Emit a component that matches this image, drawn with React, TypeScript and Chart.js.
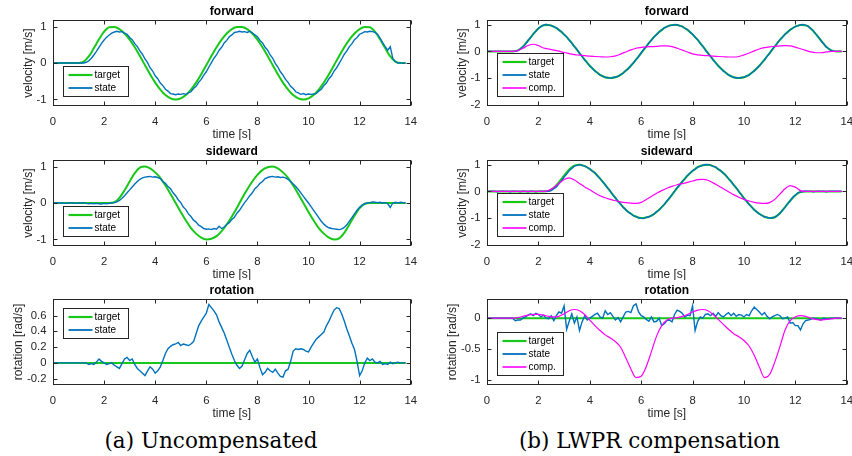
import React, { useEffect, useRef } from 'react';
import { Chart, registerables } from 'chart.js';

Chart.register(...registerables);

const FONT = '"Liberation Sans", Arial, sans-serif';
const AXIS = '#262626';
const GREEN = '#18c818';
const BLUE = '#0072bd';
const MAGENTA = '#ff00ff';
const TICK_LEN = 4;

// ---- axis ticks ----
const X_TICKS = [0, 2, 4, 6, 8, 10, 12, 14];
const Y_TICKS_VEL_A = [-1, 0, 1];
const Y_TICKS_VEL_B = [-2, -1, 0, 1];
const Y_TICKS_ROT_A = [-0.2, 0, 0.2, 0.4, 0.6];
const Y_TICKS_ROT_B = [-1, -0.5, 0];

// ---- sample spacing (s) ----
const DT_SMOOTH = 0.2;
const DT_STATE = 0.1;
const DT_ROT_TARGET = 0.6;

// ---- targets ----
const T_FWD = [0, 0, 0, 0, 0, 0, 0.04, 0.18, 0.41, 0.65, 0.86, 0.98,
  0.99, 0.93, 0.81, 0.64, 0.43, 0.19, -0.06, -0.31, -0.54, -0.73, -0.88, -0.97, -1.0, -0.97, -0.88, -0.73, -0.54, -0.31, -0.06, 0.19, 0.43, 0.64, 0.81, 0.93, 0.99,
  0.99, 0.93, 0.81, 0.64, 0.43, 0.19, -0.06, -0.31, -0.54, -0.73, -0.88, -0.97, -1.0, -0.97, -0.88, -0.73, -0.54, -0.31, -0.06, 0.19, 0.43, 0.64, 0.81, 0.93, 0.99,
  0.98, 0.86, 0.65, 0.41, 0.18, 0.04, 0, 0];

const T_SIDE = [0, 0, 0, 0, 0, 0, 0, 0, 0, 0, 0, 0,
  0.02, 0.14, 0.35, 0.59, 0.82, 0.97,
  1.0, 0.95, 0.84, 0.69, 0.48, 0.25, 0.0, -0.25, -0.48, -0.69, -0.84, -0.95, -1.0, -0.98, -0.91, -0.77, -0.59, -0.37, -0.13, 0.13, 0.37, 0.59, 0.77, 0.91, 0.98,
  1.0, 0.95, 0.84, 0.69, 0.48, 0.25, 0.0, -0.25, -0.48, -0.69, -0.84, -0.95, -1.0,
  -0.97, -0.82, -0.59, -0.35, -0.14, -0.02,
  0, 0, 0, 0, 0, 0, 0, 0];

const T_ROT = [0, 0, 0, 0, 0, 0, 0, 0, 0, 0, 0, 0, 0, 0, 0, 0, 0, 0, 0, 0, 0, 0, 0, 0];

// ---- (a) uncompensated states ----
const S_FWD_A = [0, 0, 0, 0, 0, 0, 0, 0, 0, 0, 0, 0, 0,
  0.02, 0.06, 0.13, 0.22, 0.32, 0.43, 0.54, 0.63, 0.71, 0.77, 0.82, 0.85,
  0.87, 0.85, 0.86, 0.82, 0.79, 0.70, 0.64, 0.53, 0.45, 0.33, 0.24, 0.11, 0.01, -0.13, -0.22, -0.35, -0.43, -0.55, -0.62, -0.72, -0.77, -0.84, -0.85, -0.87, -0.85, -0.86, -0.84, -0.86, -0.82, -0.79, -0.70, -0.64, -0.53, -0.45, -0.33, -0.24, -0.11, 0.01, 0.13, 0.22, 0.35, 0.43, 0.55, 0.62, 0.72, 0.77, 0.84, 0.85, 0.87, 0.85,
  0.86, 0.84, 0.87, 0.83, 0.77, 0.72, 0.62, 0.55, 0.43, 0.35, 0.22, 0.13, -0.01, -0.11, -0.24, -0.33, -0.45, -0.53, -0.64, -0.70, -0.79, -0.82, -0.86, -0.84, -0.87, -0.85, -0.86, -0.85, -0.84, -0.77, -0.72, -0.62, -0.55, -0.43, -0.35, -0.22, -0.13, -0.01, 0.11, 0.24, 0.33, 0.45, 0.53, 0.64, 0.70, 0.79, 0.82, 0.86, 0.85, 0.87,
  0.86, 0.84, 0.79, 0.68, 0.56, 0.45, 0.35, 0.45, 0.12, 0.04, 0.0, 0.01, -0.01, 0.0];

const S_SIDE_A = [0, 0, 0.01, 0, 0, -0.01, 0, 0.01, 0, -0.01, 0, 0, 0.01, -0.01, -0.02, -0.01, -0.02, -0.01, -0.02, -0.03, -0.01, -0.02, -0.01, 0.0,
  0.01, 0.03, 0.07, 0.13, 0.2, 0.28, 0.36, 0.44, 0.52, 0.59, 0.65, 0.69, 0.71, 0.72,
  0.73, 0.71, 0.72, 0.70, 0.67, 0.59, 0.54, 0.45, 0.39, 0.28, 0.2, 0.09, 0.01, -0.11, -0.18, -0.3, -0.37, -0.47, -0.52, -0.61, -0.65, -0.7, -0.72, -0.71, -0.73, -0.7, -0.72, -0.64, -0.7, -0.66, -0.59, -0.54, -0.45, -0.39, -0.28, -0.2, -0.09, 0.01, 0.1, 0.2, 0.28, 0.39, 0.45, 0.54, 0.59, 0.67, 0.7, 0.72, 0.73, 0.71,
  0.72, 0.7, 0.71, 0.69, 0.65, 0.59, 0.52, 0.45, 0.37, 0.28, 0.18, 0.09, 0.0,
  -0.1, -0.2, -0.3, -0.4, -0.5, -0.58, -0.64, -0.68, -0.7, -0.71, -0.72, -0.73, -0.71,
  -0.67, -0.6, -0.5, -0.4, -0.3, -0.2, -0.12, -0.06, -0.02, 0.0,
  0.01, 0.03, 0.02, 0.01, 0.02, 0.0, 0.01, -0.02, -0.12, 0.0, 0.02, 0.0, 0.02, 0.01, 0.0];

const S_ROT_A = [0, 0, 0, 0, 0, 0, 0, 0, 0, 0, 0, 0, 0,
  0.0, -0.02, -0.01, -0.02, 0.01, 0.05, 0.02, 0.0, -0.02, -0.01,
  0.0, -0.03, -0.05, -0.07, -0.01, 0.05, 0.07, 0.03, 0.05, -0.02,
  -0.07, -0.1, -0.13, -0.16, -0.1, -0.05, -0.08, -0.13, -0.1, -0.05,
  0.03, 0.12, 0.18, 0.21, 0.23, 0.24, 0.26, 0.22, 0.24, 0.23,
  0.22, 0.24, 0.27, 0.37, 0.47, 0.53, 0.58, 0.63, 0.74, 0.7,
  0.66, 0.61, 0.52, 0.45, 0.38, 0.29, 0.2, 0.11, 0.03, -0.03,
  -0.07, -0.04, 0.04, 0.12, 0.16, 0.08, 0.01, 0.05, -0.06, -0.15,
  -0.12, -0.07, -0.1, -0.12, -0.08, -0.13, -0.17, -0.18, -0.1, -0.08,
  0.02, 0.15, 0.18, 0.17, 0.18, 0.17, 0.15, 0.14, 0.2, 0.25,
  0.3, 0.33, 0.36, 0.39, 0.47, 0.53, 0.6, 0.67, 0.7, 0.69,
  0.62, 0.53, 0.43, 0.34, 0.25, 0.17, 0.02, -0.16, -0.1, 0.0,
  0.06, 0.03, 0.05, 0.01, 0.0, 0.02, -0.02, -0.01, -0.02, 0.01,
  -0.01, 0.0, 0.01, 0.0, 0.0, 0.0];

// ---- (b) LWPR compensation: states ----
const S_FWD_B = [0, 0, 0, 0, 0, 0, 0, 0, 0, 0, 0,
  0.0, 0.03, 0.09, 0.18, 0.28, 0.41, 0.52, 0.66, 0.76, 0.87, 0.93, 0.99,
  1.02, 0.98, 0.98, 0.92, 0.89, 0.80, 0.74, 0.63, 0.55, 0.42, 0.32, 0.18, 0.07, -0.07, -0.18, -0.32, -0.42, -0.55, -0.63, -0.74, -0.80, -0.89, -0.92, -0.98, -0.98, -1.01, -0.98, -0.96, -0.94, -0.87, -0.82, -0.72, -0.65, -0.53, -0.44, -0.30, -0.20, -0.05, 0.07, 0.18, 0.32, 0.42, 0.55, 0.63, 0.74, 0.80, 0.89, 0.92, 0.98, 0.98,
  1.01, 1.00, 0.96, 0.94, 0.87, 0.82, 0.72, 0.65, 0.53, 0.44, 0.30, 0.20, 0.05, -0.07, -0.18, -0.32, -0.42, -0.55, -0.63, -0.74, -0.80, -0.89, -0.93, -0.98, -0.99, -1.00, -0.98, -0.97, -0.92, -0.89, -0.80, -0.74, -0.63, -0.55, -0.42, -0.32, -0.18, -0.07, 0.07, 0.18, 0.31, 0.44, 0.53, 0.65, 0.72, 0.82, 0.87, 0.94, 0.96, 1.00,
  1.01, 0.98, 0.95, 0.86, 0.78, 0.65, 0.54, 0.40, 0.29, 0.17, 0.10, 0.03, 0.01, 0.0, 0.0, 0.0];

const S_SIDE_B = [0, 0, 0.01, 0, -0.01, 0, 0.01, 0, 0, -0.01, 0.01, 0, 0, -0.01, 0.01, 0, -0.01, 0.01, 0, -0.01, 0, 0.01, 0, 0.0,
  0.0, 0.03, 0.1, 0.17, 0.29, 0.4, 0.54, 0.65, 0.78, 0.86, 0.95, 0.98,
  1.01, 0.97, 0.96, 0.90, 0.85, 0.76, 0.70, 0.58, 0.49, 0.36, 0.26, 0.12, 0.01, -0.14, -0.24, -0.38, -0.47, -0.60, -0.68, -0.78, -0.83, -0.92, -0.94, -0.99, -1.01, -1.02, -0.97, -0.96, -0.90, -0.85, -0.76, -0.70, -0.58, -0.49, -0.36, -0.26, -0.12, 0.01, 0.14, 0.24, 0.38, 0.47, 0.60, 0.68, 0.78, 0.83, 0.92, 0.94, 0.99, 1.01,
  1.00, 0.99, 0.94, 0.92, 0.83, 0.78, 0.68, 0.60, 0.47, 0.38, 0.24, 0.14, -0.01, -0.12, -0.26, -0.36, -0.49, -0.58, -0.70, -0.76, -0.85, -0.90, -0.96, -0.97, -1.01,
  -0.99, -0.97, -0.9, -0.83, -0.71, -0.6, -0.46, -0.35, -0.22, -0.14, -0.05, -0.02,
  0.0, 0.01, 0.0, 0.01, -0.01, 0.0, 0.01, 0.0, 0.01, -0.01, 0.0, 0.01, 0.0, 0.01, 0.0, 0.0];

const S_ROT_B = [0, 0, 0, 0, 0, 0, 0, 0, 0, 0, 0,
  -0.04, -0.03, -0.03, 0.0, 0.02, 0.05, 0.07, 0.04, 0.08, 0.06,
  0.02, 0.05, 0.0, -0.01, 0.04, -0.04, 0.04, 0.1, 0.08, 0.2,
  -0.18, -0.05, 0.07, -0.08, 0.02, -0.2, -0.06, 0.04, -0.03, 0.0,
  0.03, 0.06, 0.08, 0.02, 0.0, 0.12, 0.06, 0.09, 0.03, -0.03,
  0.01, -0.06, 0.02, 0.1, 0.11, 0.09, 0.2, 0.23, 0.1, 0.04,
  0.02, -0.02, -0.05, 0.02, -0.06, -0.05, 0.0, -0.12, -0.09, -0.04,
  -0.03, -0.06, 0.06, 0.13, 0.11, 0.08, 0.02, 0.05, 0.04, 0.2,
  -0.2, -0.05, 0.02, 0.0, 0.06, 0.07, 0.04, 0.08, 0.03, 0.09,
  0.04, 0.02, 0.06, 0.09, 0.04, 0.08, 0.03, 0.06, 0.05, 0.02,
  0.06, 0.04, 0.12, 0.18, 0.14, 0.1, 0.05, 0.09, 0.03, -0.01,
  0.02, 0.04, 0.06, 0.04, -0.01, 0.0, 0.02, -0.08, -0.07, -0.12,
  -0.12, -0.19, -0.09, -0.04, -0.03, -0.02, 0.0, -0.01, -0.02, -0.03,
  0.0, -0.01, -0.01, 0.0, 0.0, 0.0, 0.0, 0.0];

// ---- (b) compensation signals ----
const C_FWD_B = [0, 0, 0, 0, 0, 0,
  0.03, 0.12, 0.22, 0.27, 0.22, 0.13, 0.09, 0.05, 0.01, -0.04,
  -0.08, -0.12, -0.14, -0.16, -0.18, -0.19, -0.2, -0.21, -0.2, -0.17,
  -0.1, -0.02, 0.06, 0.12, 0.15, 0.17, 0.18, 0.19, 0.21, 0.21,
  0.18, 0.12, 0.05, -0.02, -0.09, -0.13, -0.15, -0.16, -0.18, -0.19,
  -0.2, -0.21, -0.21, -0.19, -0.13, -0.06, 0.02, 0.09, 0.14, 0.17,
  0.19, 0.21, 0.22, 0.21, 0.16, 0.1, 0.04, -0.02, -0.05, -0.05,
  -0.02, 0, 0, 0];

const C_SIDE_B = [0, 0, 0, 0, 0, 0, 0, 0, 0, 0, 0, 0,
  0.04, 0.15, 0.3, 0.45, 0.51, 0.43, 0.3, 0.17, 0.06, -0.06,
  -0.16, -0.24, -0.3, -0.35, -0.39, -0.42, -0.44, -0.45, -0.41, -0.3,
  -0.19, -0.07, 0.03, 0.12, 0.19, 0.25, 0.29, 0.34, 0.39, 0.44,
  0.45, 0.42, 0.32, 0.21, 0.1, -0.01, -0.12, -0.22, -0.3, -0.36,
  -0.41, -0.44, -0.45, -0.42, -0.3, -0.1, 0.1, 0.22, 0.16, 0.03,
  0, 0, 0, 0, 0, 0, 0, 0];

const C_ROT_B = [0, 0, 0, 0, 0, 0,
  0.01, 0.03, 0.05, 0.06, 0.06, 0.05, 0.03, 0.02, 0.03, 0.07,
  0.12, 0.14, 0.12, 0.06, -0.03, -0.12, -0.2, -0.27, -0.32, -0.38,
  -0.47, -0.64, -0.82, -0.96, -0.94, -0.78, -0.54, -0.29, -0.12, -0.03,
  0.0, 0.01, 0.03, 0.06, 0.1, 0.13, 0.14, 0.12, 0.06, -0.02,
  -0.1, -0.18, -0.25, -0.3, -0.36, -0.45, -0.6, -0.79, -0.96, -0.91,
  -0.71, -0.46, -0.19, -0.04, 0.02, 0.04, 0.03, 0.0, -0.02, -0.03,
  -0.02, -0.01, 0, 0];

type Series = { label: string; data: number[]; dt: number; color: string; width: number; legendWidth: number; smooth: boolean };

function pts(arr: number[], dt: number) {
  return arr.map((v, i) => ({ x: Math.round(i * dt * 100) / 100, y: v }));
}

const COLS = {
  A: { left: 0, width: 426, axisW: 53, padRight: 12, legendW: 65 },
  B: { left: 426, width: 436, axisW: 61, padRight: 14, legendW: 66 },
};
const ROWS = [
  { top: 0, height: 140, padTop: 20, xH: 34 },
  { top: 140, height: 140, padTop: 20, xH: 34 },
  { top: 280, height: 140, padTop: 19, xH: 35 },
];

type PanelProps = {
  col: 'A' | 'B'; row: number; title: string; yLabel: string; yLabelOff: number;
  yMin: number; yMax: number; yTicks: number[]; series: Series[]; legendPos: 'top' | 'bottom';
};

function Panel(p: PanelProps) {
  const ref = useRef<HTMLCanvasElement>(null);
  const c = COLS[p.col];
  const r = ROWS[p.row];
  useEffect(() => {
    const plugin = {
      id: 'matlabDecor',
      afterDraw(chart: any) {
        const { ctx, chartArea: a } = chart;
        const xs = chart.scales.x, ys = chart.scales.y;
        ctx.save();
        const L = Math.round(a.left) + 0.5, R = Math.round(a.right) - 0.5;
        const T = Math.round(a.top) + 0.5, B = Math.round(a.bottom) - 0.5;
        ctx.strokeStyle = AXIS; ctx.lineWidth = 1;
        ctx.strokeRect(L, T, R - L, B - T);
        ctx.beginPath();
        xs.ticks.forEach((t: any) => {
          const px = Math.round(xs.getPixelForValue(t.value)) + 0.5;
          ctx.moveTo(px, B); ctx.lineTo(px, B - TICK_LEN);
          ctx.moveTo(px, T); ctx.lineTo(px, T + TICK_LEN);
        });
        ys.ticks.forEach((t: any) => {
          const py = Math.round(ys.getPixelForValue(t.value)) + 0.5;
          ctx.moveTo(L, py); ctx.lineTo(L + TICK_LEN, py);
          ctx.moveTo(R, py); ctx.lineTo(R - TICK_LEN, py);
        });
        ctx.stroke();
        // legend
        const n = p.series.length;
        const lw = c.legendW;
        const lh = 17 + 13 * (n - 1);
        const lx = Math.round(a.left) + 10.5;
        const ly = p.legendPos === 'top' ? Math.round(a.top) + 9.5 : Math.round(a.bottom) - 9.5 - lh;
        ctx.fillStyle = '#fff'; ctx.fillRect(lx, ly, lw, lh);
        ctx.strokeStyle = AXIS; ctx.lineWidth = 1; ctx.strokeRect(lx, ly, lw, lh);
        p.series.forEach((s, i) => {
          const cy = ly + 8.5 + 13 * i;
          ctx.beginPath(); ctx.strokeStyle = s.color; ctx.lineWidth = s.legendWidth;
          ctx.moveTo(lx + 5, cy); ctx.lineTo(lx + 29, cy); ctx.stroke();
          ctx.fillStyle = '#000'; ctx.font = `10px ${FONT}`; ctx.textAlign = 'left'; ctx.textBaseline = 'middle';
          ctx.fillText(s.label, lx + 31, cy + 0.5);
        });
        // titles
        const cx = (a.left + a.right) / 2;
        ctx.fillStyle = '#000'; ctx.font = `bold 12px ${FONT}`; ctx.textAlign = 'center'; ctx.textBaseline = 'alphabetic';
        ctx.fillText(p.title, cx, a.top - 4.7);
        ctx.fillStyle = AXIS; ctx.font = `12px ${FONT}`;
        ctx.fillText('time [s]', cx, a.bottom + 31.5);
        ctx.translate(a.left - p.yLabelOff, (a.top + a.bottom) / 2);
        ctx.rotate(-Math.PI / 2);
        ctx.textBaseline = 'middle';
        ctx.fillText(p.yLabel, 0, 0);
        ctx.restore();
      },
    };
    const tickFont = { family: FONT, size: 11.3 };
    const chart = new Chart(ref.current as HTMLCanvasElement, {
      type: 'line',
      data: {
        datasets: p.series.map((s, i) => ({
          label: s.label,
          data: pts(s.data, s.dt),
          borderColor: s.color,
          borderWidth: s.width,
          pointRadius: 0,
          fill: false,
          tension: s.smooth ? 0.4 : 0,
          cubicInterpolationMode: s.smooth ? 'monotone' : 'default',
          order: p.series.length - i,
        })) as any,
      },
      options: {
        animation: false,
        responsive: false,
        events: [],
        layout: { padding: { top: r.padTop, right: c.padRight, left: 0, bottom: 0 } },
        plugins: { legend: { display: false }, tooltip: { enabled: false }, title: { display: false } },
        scales: {
          x: {
            type: 'linear', min: 0, max: 14,
            afterBuildTicks: (s: any) => { s.ticks = X_TICKS.map((v) => ({ value: v })); },
            afterFit: (s: any) => { s.height = r.xH; },
            grid: { display: false, drawTicks: false },
            border: { display: false },
            ticks: { font: tickFont, color: AXIS, padding: 9, maxRotation: 0, autoSkip: false, callback: (v: any) => String(v) },
          },
          y: {
            type: 'linear', min: p.yMin, max: p.yMax,
            afterBuildTicks: (s: any) => { s.ticks = p.yTicks.map((v) => ({ value: v })); },
            afterFit: (s: any) => { s.width = c.axisW; },
            grid: { display: false, drawTicks: false },
            border: { display: false },
            ticks: { font: tickFont, color: AXIS, padding: 6.5, autoSkip: false, callback: (v: any) => String(v) },
          },
        },
      } as any,
      plugins: [plugin],
    });
    return () => chart.destroy();
  }, []);
  return (
    <canvas
      ref={ref}
      width={c.width}
      height={r.height}
      style={{ position: 'absolute', left: c.left, top: r.top, width: c.width, height: r.height }}
    />
  );
}

const tgt = (data: number[], dt: number): Series => ({ label: 'target', data, dt, color: GREEN, width: 2, legendWidth: 2.2, smooth: true });
const st = (data: number[]): Series => ({ label: 'state', data, dt: DT_STATE, color: BLUE, width: 1.4, legendWidth: 1.8, smooth: false });
const cmp = (data: number[]): Series => ({ label: 'comp.', data, dt: DT_SMOOTH, color: MAGENTA, width: 1.2, legendWidth: 1.6, smooth: true });

const captionStyle: React.CSSProperties = {
  position: 'absolute', top: 429, fontFamily: '"DejaVu Serif", serif', fontSize: '21.5px', lineHeight: '24px',
  color: '#000', whiteSpace: 'nowrap', transform: 'translateX(-50%)',
};

export default function App() {
  return (
    <div style={{ position: 'fixed', left: 0, top: 0, width: 852, height: 456, background: '#fff', overflow: 'hidden' }}>
      <Panel col="A" row={0} title="forward" yLabel="velocity [m/s]" yLabelOff={24} yMin={-1.18} yMax={1.18} yTicks={Y_TICKS_VEL_A}
        series={[tgt(T_FWD, DT_SMOOTH), st(S_FWD_A)]} legendPos="bottom" />
      <Panel col="A" row={1} title="sideward" yLabel="velocity [m/s]" yLabelOff={24} yMin={-1.18} yMax={1.18} yTicks={Y_TICKS_VEL_A}
        series={[tgt(T_SIDE, DT_SMOOTH), st(S_SIDE_A)]} legendPos="bottom" />
      <Panel col="A" row={2} title="rotation" yLabel="rotation [rad/s]" yLabelOff={34.7} yMin={-0.28} yMax={0.81} yTicks={Y_TICKS_ROT_A}
        series={[tgt(T_ROT, DT_ROT_TARGET), st(S_ROT_A)]} legendPos="top" />
      <Panel col="B" row={0} title="forward" yLabel="velocity [m/s]" yLabelOff={24} yMin={-2.05} yMax={1.18} yTicks={Y_TICKS_VEL_B}
        series={[tgt(T_FWD, DT_SMOOTH), st(S_FWD_B), cmp(C_FWD_B)]} legendPos="bottom" />
      <Panel col="B" row={1} title="sideward" yLabel="velocity [m/s]" yLabelOff={24} yMin={-2.05} yMax={1.18} yTicks={Y_TICKS_VEL_B}
        series={[tgt(T_SIDE, DT_SMOOTH), st(S_SIDE_B), cmp(C_SIDE_B)]} legendPos="bottom" />
      <Panel col="B" row={2} title="rotation" yLabel="rotation [rad/s]" yLabelOff={34.3} yMin={-1.08} yMax={0.31} yTicks={Y_TICKS_ROT_B}
        series={[tgt(T_ROT, DT_ROT_TARGET), st(S_ROT_B), cmp(C_ROT_B)]} legendPos="bottom" />
      <div style={{ ...captionStyle, left: 211 }}>(a) Uncompensated</div>
      <div style={{ ...captionStyle, left: 649.5 }}>(b) LWPR compensation</div>
    </div>
  );
}
